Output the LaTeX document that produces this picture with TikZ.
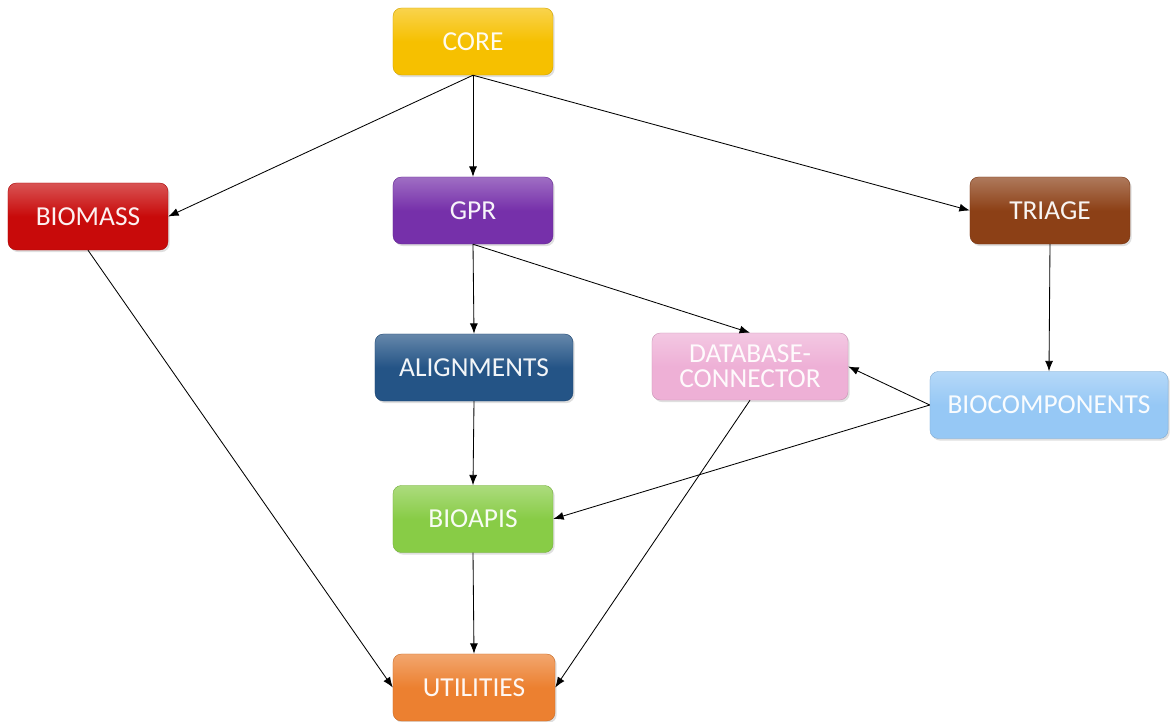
\documentclass[tikz,border=0pt]{standalone}
\usepackage{fontspec}
\setmainfont{Carlito}
\usepackage{tikz}
\usetikzlibrary{arrows.meta,shadows}
\definecolor{ccore}{RGB}{246,192,0}
\definecolor{cbiom}{RGB}{200,10,10}
\definecolor{cgpr}{RGB}{118,48,170}
\definecolor{ctria}{RGB}{140,64,22}
\definecolor{calig}{RGB}{36,84,134}
\definecolor{cdbc}{RGB}{238,176,214}
\definecolor{cbioc}{RGB}{150,200,245}
\definecolor{capis}{RGB}{136,204,70}
\definecolor{cutil}{RGB}{236,128,48}
\tikzset{
  mod/.style={rounded corners=6pt, top color=#1!70!white, bottom color=#1,
      middle color=#1, draw=#1!85!black, line width=0.3pt,
      drop shadow={opacity=0.25, shadow xshift=1.2pt, shadow yshift=-1.5pt},
      text=white!94!#1, font=\fontsize{19.5}{21}\selectfont, align=center,
      minimum width=4cm, minimum height=1.675cm, inner sep=2pt},
  dep/.style={-{Latex[length=2.6mm, width=2mm]}, black, line width=0.6pt},
}

\begin{document}
\begin{tikzpicture}[x=0.025cm, y=-0.025cm]
  \useasboundingbox (0,0) rectangle (1172,722);
  % modules
  \node[mod=ccore] (core) at (473,41.5) {CORE};
  \node[mod=cbiom] (biomass) at (88,216.5) {BIOMASS};
  \node[mod=cgpr] (gpr) at (473,210.5) {GPR};
  \node[mod=ctria] (triage) at (1050,210.5) {TRIAGE};
  \node[mod=calig, minimum width=4.95cm] (align) at (474,367.5) {ALIGNMENTS};
  \node[mod=cdbc, minimum width=4.9cm] (dbconn) at (750,366.5) {DATABASE-\\[-3pt]CONNECTOR};
  \node[mod=cbioc, minimum width=5.95cm] (biocomp) at (1049,405) {BIOCOMPONENTS};
  \node[mod=capis] (bioapis) at (473,519) {BIOAPIS};
  \node[mod=cutil, minimum width=4.05cm] (utils) at (474,687.5) {UTILITIES};
  % dependencies
  \draw[dep] (core.south) -- (biomass.east);
  \draw[dep] (core.south) -- (gpr.north);
  \draw[dep] (core.south) -- (triage.west);
  \draw[dep] (biomass.south) -- (utils.west);
  \draw[dep] (gpr.south) -- (align.north);
  \draw[dep] (gpr.south) -- (dbconn.north);
  \draw[dep] (triage.south) -- (biocomp.north);
  \draw[dep] (biocomp.west) -- (dbconn.east);
  \draw[dep] (biocomp.west) -- (bioapis.east);
  \draw[dep] (align.south) -- (bioapis.north);
  \draw[dep] (dbconn.south) -- (utils.east);
  \draw[dep] (bioapis.south) -- (utils.north);
\end{tikzpicture}
\end{document}
